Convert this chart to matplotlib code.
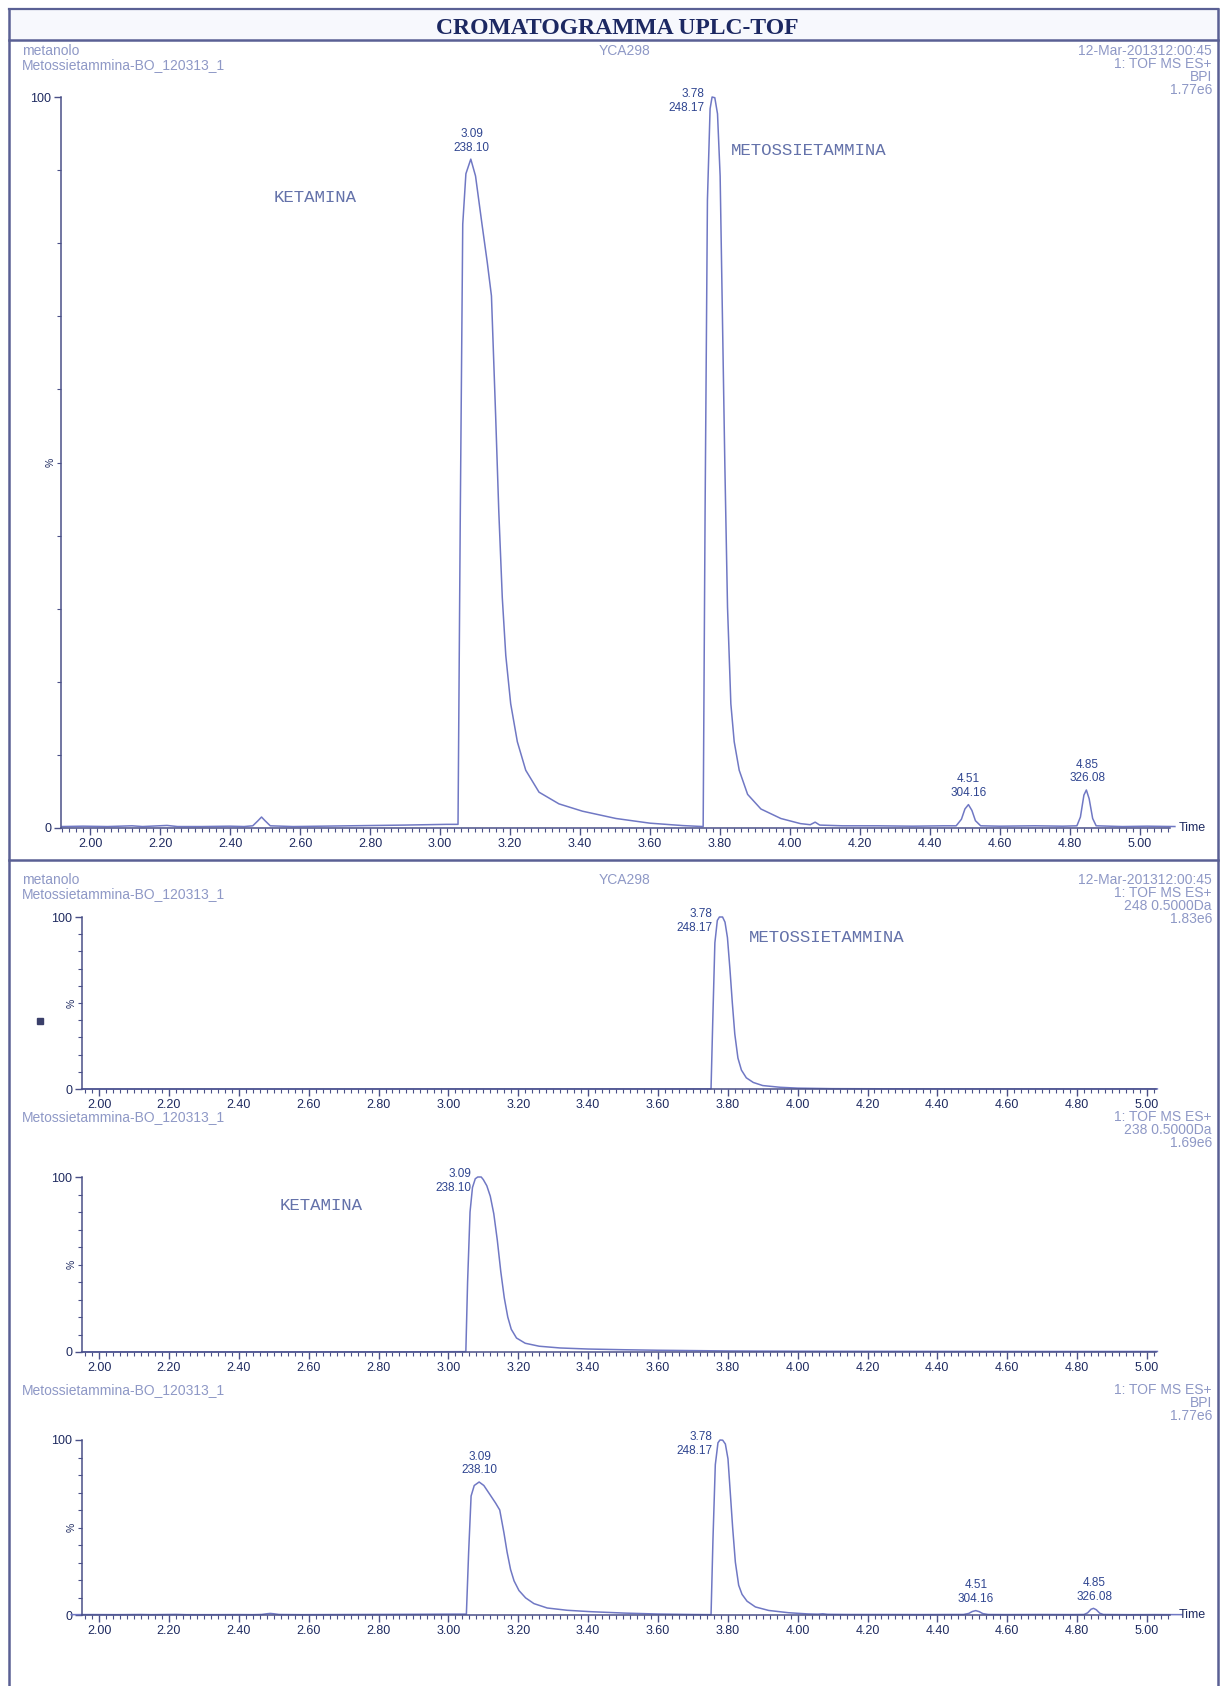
import numpy as np
import matplotlib
matplotlib.use("Agg")
import matplotlib.pyplot as plt
from matplotlib.ticker import MultipleLocator, FixedLocator


# --- data (time in min, intensity in %) ---

bpi_t = [1.92, 1.98, 2.05, 2.12, 2.15, 2.22, 2.25, 2.32, 2.40, 2.44, 2.465, 2.48,
         2.49, 2.50, 2.515, 2.58, 2.66, 2.74, 2.82, 2.90, 2.96, 3.02, 3.0515,
         3.058, 3.065, 3.074, 3.088, 3.1015, 3.12, 3.135, 3.147, 3.159, 3.168, 3.178,
         3.188, 3.202, 3.221, 3.245, 3.283, 3.34, 3.407, 3.503, 3.60, 3.694, 3.752,
         3.7575, 3.7642, 3.7718, 3.7775, 3.7853, 3.793, 3.8005, 3.8072, 3.8139,
         3.8216, 3.8311, 3.8407, 3.855, 3.879, 3.917, 3.974, 4.03, 4.058, 4.072,
         4.085, 4.15, 4.25, 4.35, 4.44, 4.475, 4.49, 4.50, 4.51, 4.52, 4.53, 4.545,
         4.60, 4.70, 4.78, 4.82, 4.83, 4.84, 4.847, 4.855, 4.865, 4.875, 4.95,
         5.02, 5.10]
bpi_i = [0.2, 0.25, 0.2, 0.3, 0.2, 0.35, 0.2, 0.2, 0.25, 0.2, 0.3, 1.0,
         1.5, 1.0, 0.3, 0.2, 0.25, 0.3, 0.35, 0.4, 0.45, 0.5, 0.5,
         43.0, 82.6, 89.5, 91.5, 89.2, 82.6, 77.4, 72.8, 56.4, 43.3, 31.5,
         23.6, 17.0, 11.8, 7.9, 4.9, 3.3, 2.3, 1.3, 0.66, 0.33, 0.2,
         43.3, 85.9, 98.4, 100.0, 99.9, 97.7, 89.2, 69.5, 49.8,
         30.2, 17.0, 11.8, 7.9, 4.6, 2.6, 1.3, 0.6, 0.45, 0.8,
         0.4, 0.3, 0.3, 0.25, 0.3, 0.3, 1.2, 2.6, 3.2, 2.4, 1.0, 0.3,
         0.25, 0.3, 0.25, 0.3, 1.5, 4.5, 5.2, 4.0, 1.3, 0.3, 0.2,
         0.25, 0.2]

eic248_t = [1.95, 2.50, 3.00, 3.50, 3.748, 3.752, 3.757, 3.763, 3.770, 3.776,
            3.785, 3.792, 3.799, 3.806, 3.813, 3.820, 3.829, 3.839, 3.853, 3.873,
            3.90, 3.95, 4.00, 4.10, 4.30, 4.60, 5.03]
eic248_i = [0.0, 0.0, 0.05, 0.05, 0.05, 0.1, 40.0, 85.0, 98.0, 100.0,
            100.0, 97.0, 88.0, 70.0, 50.0, 32.0, 18.0, 11.0, 6.5, 3.8,
            2.0, 1.0, 0.5, 0.2, 0.1, 0.05, 0.05]

eic238_t = [1.95, 2.50, 2.90, 3.045, 3.05, 3.055, 3.062, 3.069, 3.077, 3.084,
            3.094, 3.10, 3.11, 3.12, 3.13, 3.14, 3.15, 3.16, 3.17, 3.18, 3.195,
            3.22, 3.26, 3.32, 3.40, 3.50, 3.60, 3.70, 3.80, 3.90, 4.10, 4.40,
            4.70, 5.03]
eic238_i = [0.05, 0.05, 0.1, 0.2, 0.3, 40.0, 80.0, 94.0, 99.0, 100.0,
            100.0, 98.5, 95.0, 89.0, 79.0, 64.0, 46.0, 31.0, 20.0, 13.0, 8.0,
            5.0, 3.3, 2.3, 1.7, 1.3, 1.0, 0.8, 0.6, 0.5, 0.4, 0.35,
            0.3, 0.3]

bpi2_t = bpi_t
bpi2_i = [0.2, 0.25, 0.2, 0.3, 0.2, 0.35, 0.2, 0.2, 0.25, 0.2, 0.3, 0.7,
          0.9, 0.7, 0.3, 0.2, 0.25, 0.3, 0.35, 0.4, 0.45, 0.5, 0.5,
          36.0, 68.0, 74.0, 76.0, 74.0, 68.5, 64.0, 60.0, 47.0, 36.0, 26.0,
          19.5, 14.0, 9.8, 6.5, 4.0, 2.7, 1.9, 1.1, 0.55, 0.3, 0.2,
          43.3, 85.9, 98.4, 100.0, 99.9, 97.7, 89.2, 69.5, 49.8,
          30.2, 17.0, 11.8, 7.9, 4.6, 2.6, 1.3, 0.6, 0.45, 0.7,
          0.4, 0.3, 0.3, 0.25, 0.3, 0.3, 0.9, 2.0, 2.5, 1.9, 0.8, 0.3,
          0.25, 0.3, 0.25, 0.3, 1.2, 3.3, 3.8, 3.0, 1.0, 0.3, 0.2,
          0.25, 0.2]

# peak labels: retention time, m/z, placement
peaks_p1 = [(3.09, "238.10", "above"), (3.78, "248.17", "left"),
            (4.51, "304.16", "above"), (4.85, "326.08", "above")]
peaks_p2 = [(3.78, "248.17", "left")]
peaks_p3 = [(3.09, "238.10", "left")]
peaks_p4 = [(3.09, "238.10", "above"), (3.78, "248.17", "left"),
            (4.51, "304.16", "above"), (4.85, "326.08", "above")]

x_major = np.arange(2.0, 5.01, 0.2)


# --- styling ---

W, H = 1221, 1686
trace_c = "#7078c4"
axis_c = "#4a5088"
tick_txt_c = "#1e2a60"
head_c = "#8e98c6"
peak_c = "#2f4590"
comp_c = "#6472aa"
frame_c = "#5a6094"

plt.rcParams["font.family"] = ["Liberation Sans", "DejaVu Sans"]

fig = plt.figure(figsize=(W / 100, H / 100), dpi=100)
fig.patch.set_facecolor("white")

bg = fig.add_axes([0, 0, 1, 1])
bg.set_xlim(0, W)
bg.set_ylim(H, 0)
bg.axis("off")

# frame + title bar
bg.fill_between([9, 1218], 9, 40, color="#f7f8fd", zorder=0)
bg.plot([9, 1218], [9, 9], color=frame_c, lw=1.6)
bg.plot([9, 1218], [40, 40], color=frame_c, lw=1.8)
bg.plot([9, 1218], [860, 860], color=frame_c, lw=1.8)
bg.plot([9, 9], [9, H], color=frame_c, lw=1.8)
bg.plot([1218, 1218], [9, H], color=frame_c, lw=1.8)
bg.text(617, 29, "CROMATOGRAMMA UPLC-TOF", ha="center", va="center",
        fontsize=17, fontweight="bold", family=["Liberation Serif"], color="#1c2862")


def header(y, left_lines, right_lines, centre=None):
    for k, s in enumerate(left_lines):
        bg.text(22, y + k * 14, s, ha="left", va="center", fontsize=10, color=head_c)
    for k, s in enumerate(right_lines):
        bg.text(1212, y + k * 13, s, ha="right", va="center", fontsize=10, color=head_c)
    if centre:
        bg.text(625, y, centre, ha="center", va="center", fontsize=10, color=head_c)


sample = "Metossietammina-BO_120313_1"
date = "12-Mar-201312:00:45"
header(51, ["metanolo", sample], [date, "1: TOF MS ES+", "BPI", "1.77e6"], "YCA298")
header(880, ["metanolo", sample], [date, "1: TOF MS ES+", "248 0.5000Da", "1.83e6"], "YCA298")
header(1117, [sample], ["1: TOF MS ES+", "238 0.5000Da", "1.69e6"])
header(1390, [sample], ["1: TOF MS ES+", "BPI", "1.77e6"])

bg.plot([40], [1021], marker="s", ms=4, color="#3a3f6a", ls="none")


def panel(x0, x1, y_top, y_bot, xlim, t, inten, peaks, time_label):
    ax = fig.add_axes([x0 / W, 1 - y_bot / H, (x1 - x0) / W, (y_bot - y_top) / H])
    ax.patch.set_alpha(0)
    ax.plot(t, inten, color=trace_c, lw=1.1, clip_on=False)
    ax.set_xlim(*xlim)
    ax.set_ylim(0, 100)
    for s in ("top", "right"):
        ax.spines[s].set_visible(False)
    for s in ("left", "bottom"):
        ax.spines[s].set_color(axis_c)
        ax.spines[s].set_linewidth(1.1)
    ax.xaxis.set_major_locator(FixedLocator(x_major))
    ax.set_xticklabels([f"{v:.2f}" for v in x_major])
    ax.xaxis.set_minor_locator(MultipleLocator(0.02))
    ax.yaxis.set_major_locator(FixedLocator([0, 100]))
    ax.set_yticklabels(["0", "100"])
    ax.yaxis.set_minor_locator(FixedLocator(np.arange(10, 100, 10)))
    ax.tick_params(which="major", length=5, width=1.0, color=axis_c,
                   labelsize=9, labelcolor=tick_txt_c, pad=2)
    ax.tick_params(which="minor", length=3, width=0.8, color=axis_c)
    ax.text(-0.005, 50, "%", transform=ax.get_yaxis_transform(), rotation=90,
            ha="right", va="center", fontsize=7.5, color=tick_txt_c)
    if time_label:
        ax.text(1.008, 0, "Time", transform=ax.get_yaxis_transform(),
                ha="left", va="center", fontsize=9, color=tick_txt_c)
    ta = np.asarray(t)
    ia = np.asarray(inten)
    for rt, mz, where in peaks:
        near = np.abs(ta - rt) < 0.02
        h = ia[near].max()
        if where == "above":
            ax.annotate(f"{rt:.2f}\n{mz}", xy=(rt, h), xytext=(0, 4),
                        textcoords="offset points", ha="center", va="bottom",
                        fontsize=8.5, color=peak_c, linespacing=1.2,
                        annotation_clip=False)
        else:
            ax.annotate(f"{rt:.2f}\n{mz}", xy=(rt, h), xytext=(-6, -3),
                        textcoords="offset points", ha="right", va="center",
                        fontsize=8.5, color=peak_c, linespacing=1.2,
                        annotation_clip=False)
    return ax


ax1 = panel(61, 1170, 97, 828, (1.917, 5.086), bpi_t, bpi_i, peaks_p1, True)
ax2 = panel(82, 1156, 917, 1089, (1.951, 5.026), eic248_t, eic248_i, peaks_p2, False)
ax3 = panel(82, 1156, 1177, 1352, (1.951, 5.026), eic238_t, eic238_i, peaks_p3, False)
ax4 = panel(82, 1170, 1440, 1615, (1.951, 5.066), bpi2_t, bpi2_i, peaks_p4, True)

mono = ["Liberation Mono", "DejaVu Sans Mono"]
ax1.text(2.526, 86.3, "KETAMINA", family=mono, fontsize=12.5, color=comp_c, va="center")
ax1.text(3.831, 92.7, "METOSSIETAMMINA", family=mono, fontsize=12.5, color=comp_c, va="center")
ax2.text(3.861, 88.0, "METOSSIETAMMINA", family=mono, fontsize=12.5, color=comp_c, va="center")
ax3.text(2.518, 84.0, "KETAMINA", family=mono, fontsize=12.5, color=comp_c, va="center")

fig.savefig("out.png", dpi=100)
